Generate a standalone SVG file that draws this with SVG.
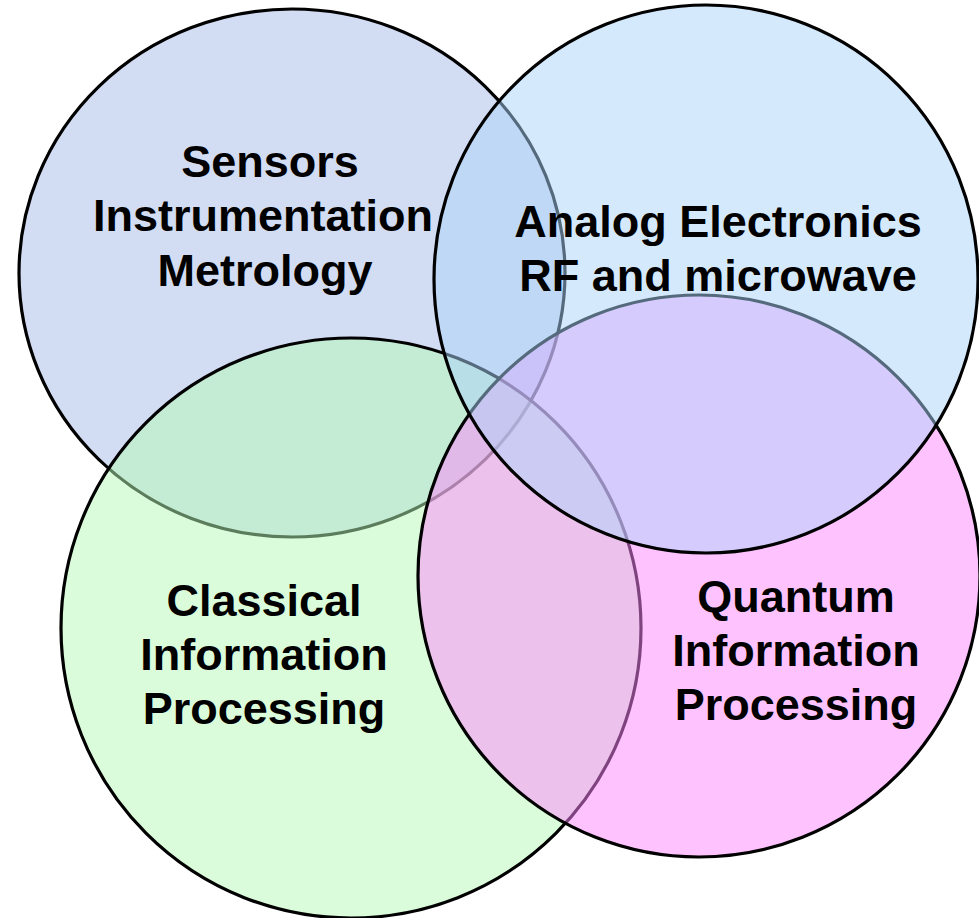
<svg xmlns="http://www.w3.org/2000/svg" width="979" height="918" viewBox="0 0 979 918">
<style>
.c{stroke:#000;stroke-width:3.2;fill-opacity:0.5}
text{font-family:"Liberation Sans",Arial,sans-serif;font-weight:bold;font-size:45px;fill:#000;text-anchor:middle}
</style>
<rect width="979" height="918" fill="#fff"/>
<g id="sensors">
<ellipse class="c" cx="292" cy="273" rx="273" ry="264" fill="#a5b9e5"/>
<text x="270" y="177">Sensors</text>
<text x="263" y="231">Instrumentation</text>
<text x="265" y="286">Metrology</text>
</g>
<g id="classical">
<ellipse class="c" cx="351" cy="628" rx="290" ry="290" fill="#b5f9b5"/>
<text x="264" y="616">Classical</text>
<text x="264" y="670">Information</text>
<text x="264" y="724">Processing</text>
</g>
<g id="quantum">
<ellipse class="c" cx="699" cy="576" rx="281" ry="281" fill="#fd87fd"/>
<text x="796" y="612">Quantum</text>
<text x="796" y="666">Information</text>
<text x="796" y="720">Processing</text>
</g>
<g id="analog">
<ellipse class="c" cx="706" cy="279" rx="272" ry="274" fill="#abd3f9"/>
<text x="718" y="237">Analog Electronics</text>
<text x="718" y="291">RF and microwave</text>
</g>
<g id="connectors"></g>
</svg>
